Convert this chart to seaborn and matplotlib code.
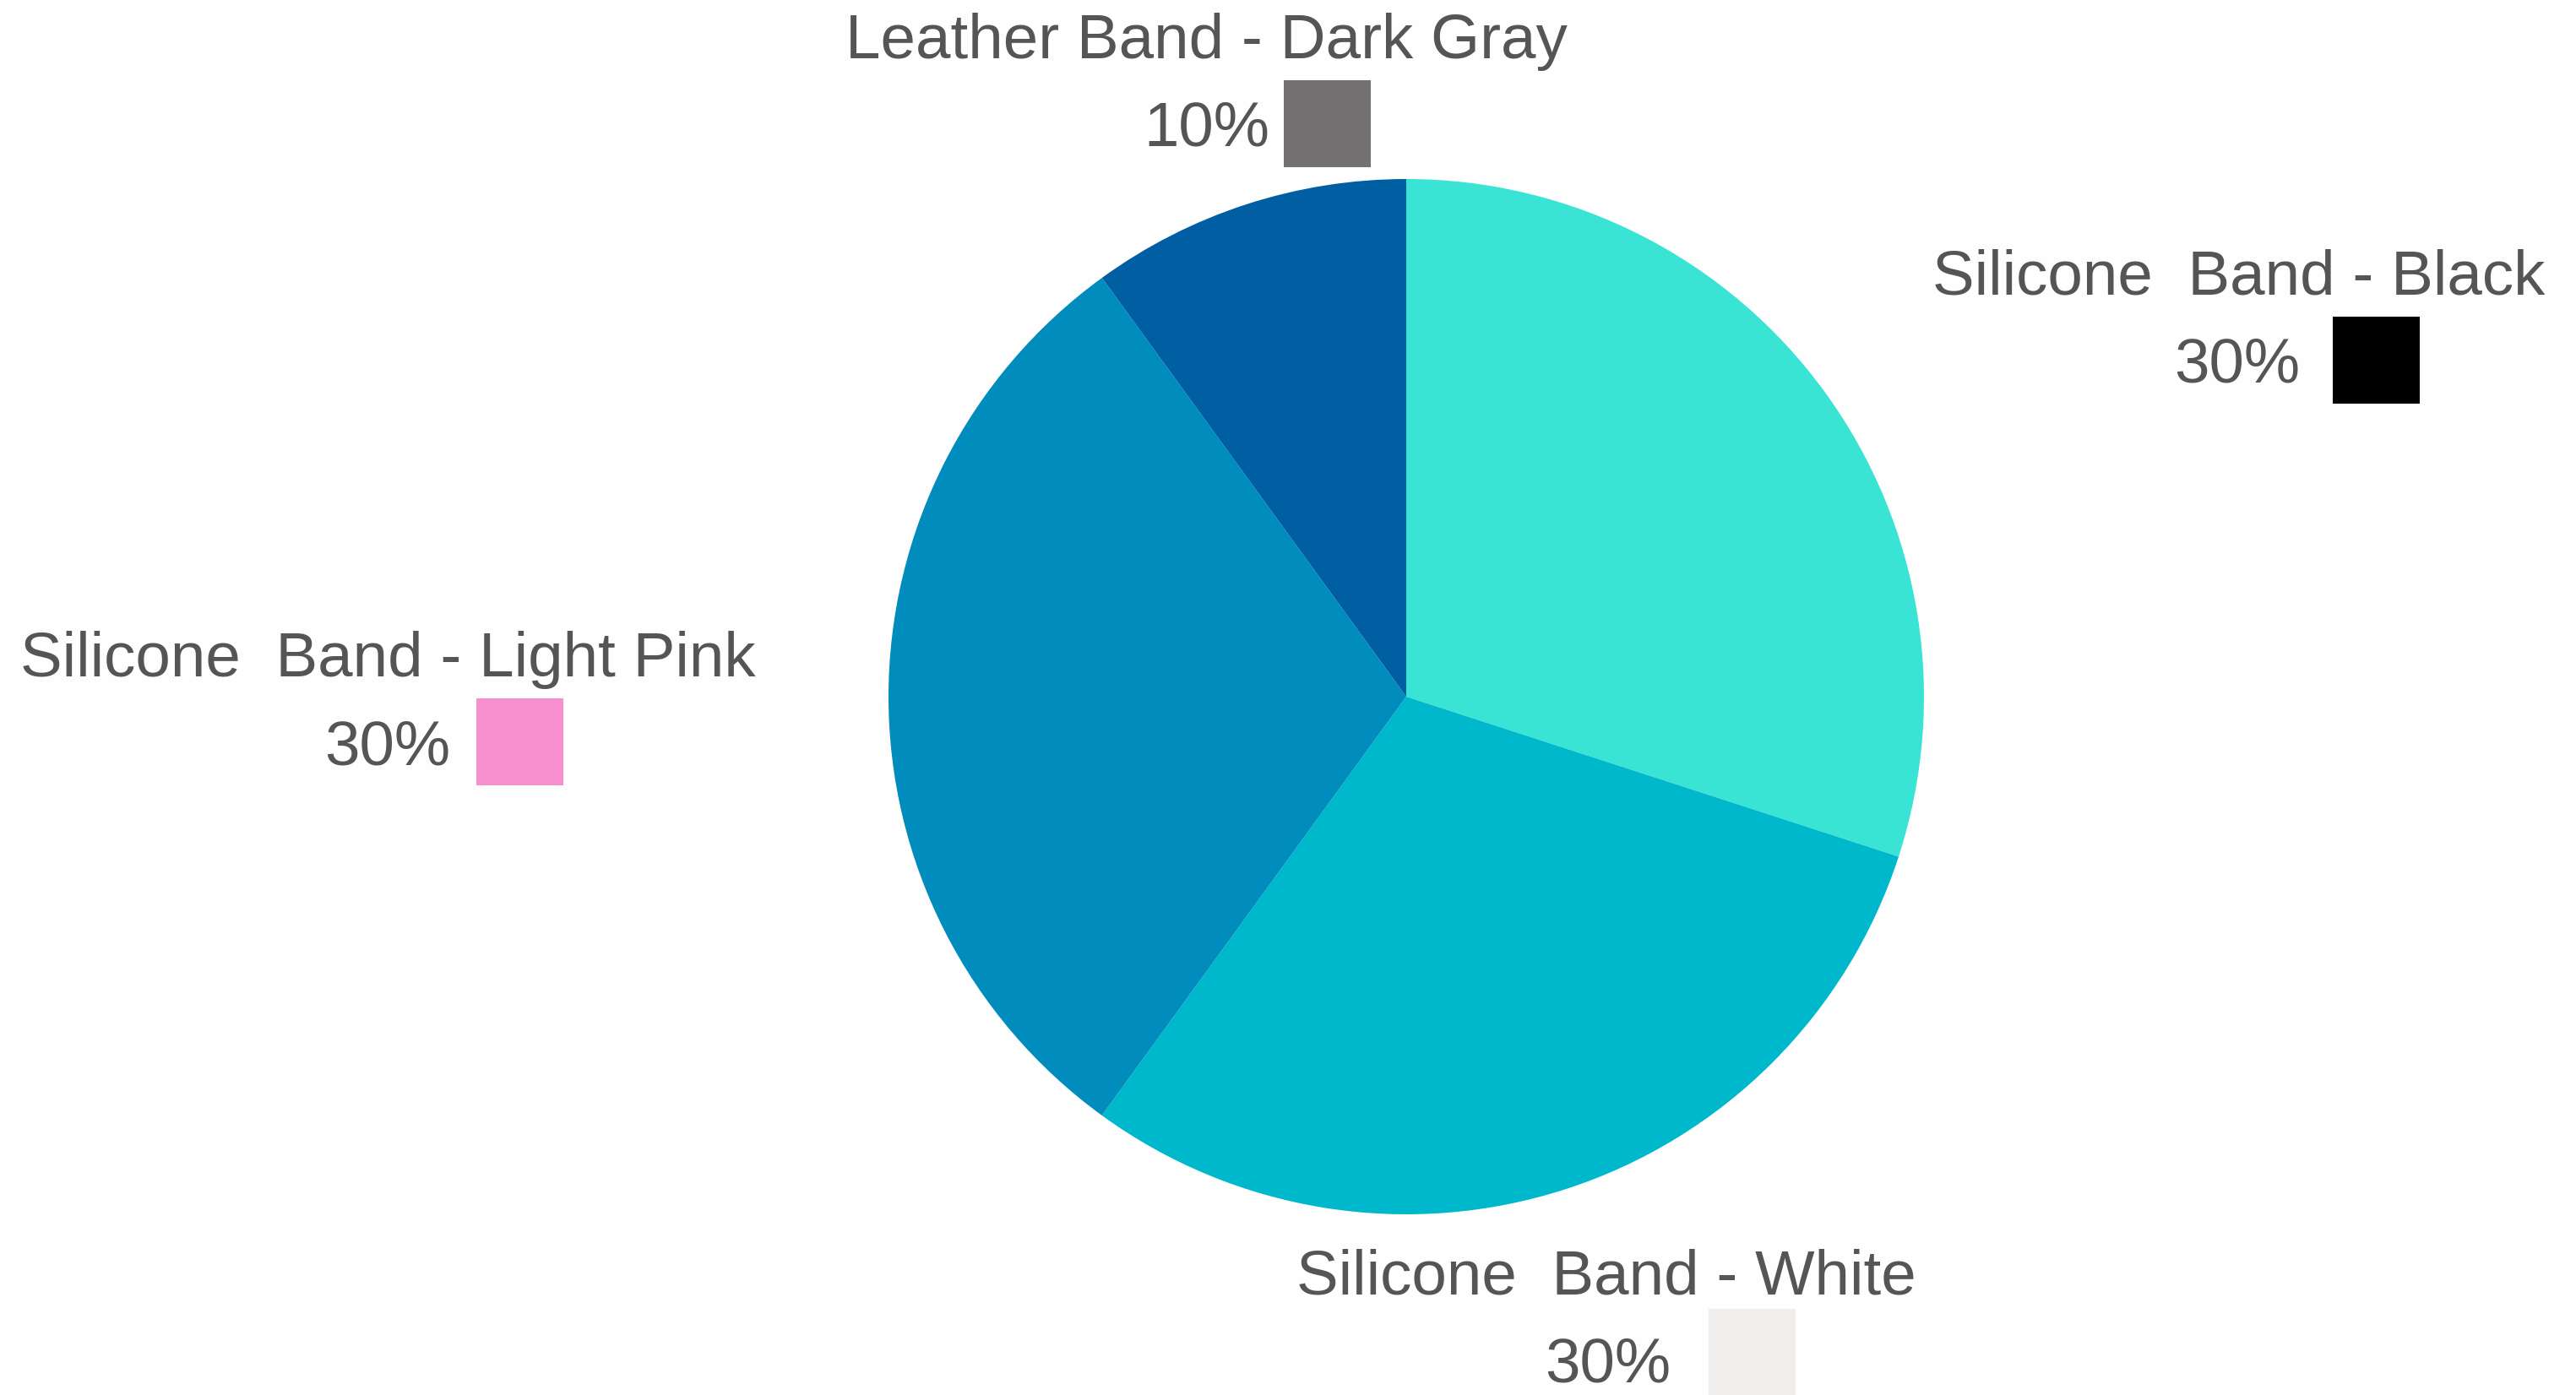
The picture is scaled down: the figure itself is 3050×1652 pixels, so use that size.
import matplotlib
matplotlib.use("Agg")
import matplotlib.pyplot as plt
from matplotlib.patches import Rectangle
import seaborn as sns

# ── Data ──────────────────────────────────────────────────────────
labels = ["Silicone  Band - Black", "Silicone  Band - White",
          "Silicone  Band - Light Pink", "Leather Band - Dark Gray"]
shares = [30, 30, 30, 10]
slice_colors = ["#3AE4D4", "#00B8CC", "#008CBC", "#005FA3"]
swatch_colors = ["#000000", "#F0EEEC", "#F78FCE", "#737172"]

W, H = 3050, 1652
# label anchor (text centre x, text y, percent right edge, percent y, swatch left, swatch top) in image px
label_pos = [
    (2651, 329, 2723, 433, 2762, 375),
    (1902, 1513, 1978, 1617, 2023, 1550),
    (459, 782, 533, 886, 564, 827),
    (1428, 49, 1503, 153, 1520, 95),
]
SW = 103

sns.set_theme(style="white")
plt.rcParams["font.family"] = ["Liberation Sans", "DejaVu Sans"]

fig = plt.figure(figsize=(W / 100, H / 100), dpi=100)
fig.patch.set_facecolor("#FEFEFE")
ax = fig.add_axes([0, 0, 1, 1])

ax.pie(shares, colors=slice_colors, startangle=90, counterclock=False,
       center=(1665, H - 825), radius=613, frame=True,
       wedgeprops=dict(linewidth=0))
ax.set_xlim(0, W)
ax.set_ylim(0, H)
ax.set_aspect("equal")
ax.axis("off")

fs = 53.7
for lab, val, sw, (tx, ty, px, py, sx, sy) in zip(labels, shares, swatch_colors, label_pos):
    ax.text(tx, H - ty, lab, ha="center", va="center", fontsize=fs, color="#555555")
    ax.text(px, H - py, f"{val}%", ha="right", va="center", fontsize=fs, color="#555555")
    ax.add_patch(Rectangle((sx, H - sy - SW), SW, SW, facecolor=sw, edgecolor="none"))

fig.savefig("out.png", dpi=100, facecolor=fig.get_facecolor())
